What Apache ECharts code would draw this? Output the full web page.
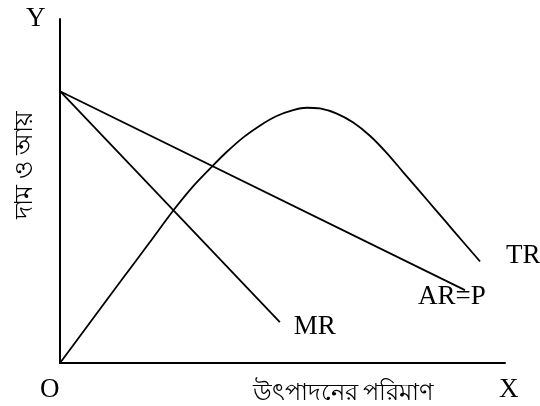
<!DOCTYPE html>
<html>
<head>
<meta charset="utf-8">
<script src="https://cdn.jsdelivr.net/npm/echarts@6/dist/echarts.min.js"></script>
<style>
  html, body { margin: 0; padding: 0; background: #fff; }
  #main { width: 540px; height: 406px; }
</style>
</head>
<body>
<div id="main"></div>
<script>
// quantity (x) and price / revenue (y) on a 0-100 scale
var trQty = [0, 7, 14, 20, 25.5, 30, 34.3, 37.5, 41.2, 44.9, 48.7, 52.4, 55.4, 58.4, 62.2, 65.9, 69.7, 73.4, 77.1, 80.9, 84.7, 88.4, 94.4];
var trVal = [0, 12.2, 24.4, 34.8, 44.4, 51.5, 57.3, 61.4, 65.6, 69, 71.8, 73.5, 74.2, 74, 72.5, 69.9, 66, 61.1, 55.5, 49.8, 44.1, 38.5, 29.5];

var arQty = [0, 91];
var arVal = [79, 21.2];

var mrQty = [0, 49.4];
var mrVal = [79, 11.9];

var serifFont = "Liberation Serif";
var bnFont = "Noto Sans CJK SC, Noto Sans, sans-serif";

function pairs(xs, ys) {
  var out = [];
  for (var i = 0; i < xs.length; i++) {
    out.push([xs[i], ys[i]]);
  }
  return out;
}

var myChart = echarts.init(document.getElementById("main"));

myChart.setOption({
  animation: false,
  backgroundColor: "#fff",
  grid: {
    left: 60,
    right: 35,
    top: 19,
    bottom: 43
  },
  xAxis: {
    type: "value",
    min: 0,
    max: 100,
    axisLine: { show: true, lineStyle: { color: "#000", width: 2 } },
    axisTick: { show: false },
    axisLabel: { show: false },
    splitLine: { show: false }
  },
  yAxis: {
    type: "value",
    min: 0,
    max: 100,
    axisLine: { show: true, lineStyle: { color: "#000", width: 2 } },
    axisTick: { show: false },
    axisLabel: { show: false },
    splitLine: { show: false }
  },
  graphic: [
    { type: "text", left: 26, top: 5, style: { text: "Y", font: "27px " + serifFont, fill: "#000" } },
    { type: "text", left: 40, top: 376, style: { text: "O", font: "27px " + serifFont, fill: "#000" } },
    { type: "text", left: 499, top: 376, style: { text: "X", font: "27px " + serifFont, fill: "#000" } },
    { type: "text", left: 253, top: 379, style: { text: "উৎপাদনের পরিমাণ", font: "24px " + bnFont, fill: "#000" } },
    {
      type: "text",
      x: 22,
      y: 165,
      rotation: Math.PI / 2,
      style: { text: "দাম ও আয়", font: "25px " + bnFont, fill: "#000", align: "center", verticalAlign: "middle" }
    }
  ],
  series: [
    {
      type: "line",
      data: pairs(trQty, trVal),
      smooth: 0.3,
      symbol: "none",
      lineStyle: { color: "#000", width: 1.8 },
      endLabel: {
        show: true,
        formatter: "TR",
        color: "#000",
        fontFamily: serifFont,
        fontSize: 27,
        offset: [18, -6]
      }
    },
    {
      type: "line",
      data: pairs(arQty, arVal),
      symbol: "none",
      lineStyle: { color: "#000", width: 1.8 },
      endLabel: {
        show: true,
        formatter: "AR=P",
        color: "#000",
        fontFamily: serifFont,
        fontSize: 27,
        offset: [-55, 7]
      }
    },
    {
      type: "line",
      data: pairs(mrQty, mrVal),
      symbol: "none",
      lineStyle: { color: "#000", width: 1.8 },
      endLabel: {
        show: true,
        formatter: "MR",
        color: "#000",
        fontFamily: serifFont,
        fontSize: 27,
        offset: [6, 5]
      }
    }
  ]
});
</script>
</body>
</html>
